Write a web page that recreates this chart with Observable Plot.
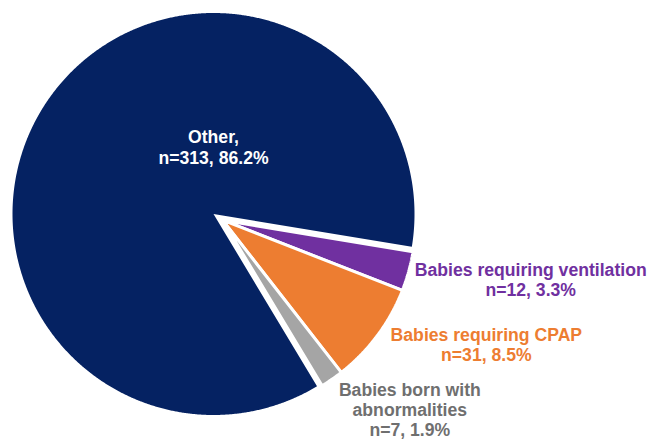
<!DOCTYPE html>
<html><head><meta charset="utf-8">
<script src="https://cdn.jsdelivr.net/npm/d3@7"></script>
<script src="https://cdn.jsdelivr.net/npm/@observablehq/plot@0.6"></script>
<style>html,body{margin:0;padding:0;background:#fff}</style>
</head><body><div id="chart"></div>
<script>
// ---- data ----
const categories = ["Other", "Babies requiring ventilation", "Babies requiring CPAP", "Babies born with abnormalities"];
const counts = [313, 12, 31, 7];
const percents = [86.2, 3.3, 8.5, 1.9];
const labelHeads = ["Other,", "Babies requiring ventilation", "Babies requiring CPAP", "Babies born with\nabnormalities"];

// ---- style / layout ----
const sliceColors = ["#052262", "#7030a0", "#ed7d31", "#a5a5a5"];
const textColors = ["#ffffff", "#7030a0", "#ed7d31", "#6f6f6f"];
const W = 649, H = 439, R = 201, CX = 213, CY = 213.5;
const startDeg = 149;
const explodePx = 11, smallR = 193 / R;
const labelNudge = [[0, -50.5], [122, 24.7], [109, 25.6], [78, 57]];
const fontSize = 18.6, lineGap = 20.3;
const fontFamily = "'Liberation Sans', Arial, 'DejaVu Sans', sans-serif";

// horizontal condensing factor so the long label spans ~232px like the reference
const target = 232, sample = "Babies requiring ventilation";
const ns = "http://www.w3.org/2000/svg";
const probe = document.createElementNS(ns, "svg");
probe.setAttribute("width", 10); probe.setAttribute("height", 10);
document.body.appendChild(probe);
const pt = document.createElementNS(ns, "text");
pt.setAttribute("style", `font-family:${fontFamily};font-weight:bold;font-size:${fontSize}px`);
pt.textContent = sample;
probe.appendChild(pt);
const sampleW = pt.getComputedTextLength() || target;
probe.remove();
const sx = Math.max(0.7, Math.min(1, target / sampleW));

const rows = categories.map((c, i) => ({category: c, n: counts[i], pct: percents[i]}));
const a0 = startDeg * Math.PI / 180;
const arcs = d3.pie().sort(null).value(d => d.n).startAngle(a0).endAngle(a0 + 2 * Math.PI)(rows);

// group explode for the small slices
const gMid = (arcs[1].startAngle + arcs[3].endAngle) / 2;
const off = explodePx / R;
const ox = off * Math.sin(gMid), oy = off * Math.cos(gMid);

function slicePoints(arc, i) {
  const small = i > 0;
  const cx = small ? ox : 0, cy = small ? oy : 0, r = small ? smallR : 1;
  const pts = [{x: cx, y: cy}];
  const steps = Math.max(8, Math.ceil((arc.endAngle - arc.startAngle) / 0.005));
  for (let k = 0; k <= steps; k++) {
    const a = arc.startAngle + (arc.endAngle - arc.startAngle) * k / steps;
    pts.push({x: cx + r * Math.sin(a), y: cy + r * Math.cos(a)});
  }
  pts.push({x: cx, y: cy});
  return pts;
}

const marks = [];
arcs.forEach((arc, i) => {
  marks.push(Plot.line(slicePoints(arc, i), {
    x: "x", y: "y", fill: sliceColors[i],
    stroke: i > 0 ? "white" : "none", strokeWidth: 3, strokeLinejoin: "miter", curve: "linear"
  }));
});

arcs.forEach((arc, i) => {
  const small = i > 0;
  const mid = (arc.startAngle + arc.endAngle) / 2;
  const anchor = small
    ? {x: ox + smallR * Math.sin(mid), y: oy + smallR * Math.cos(mid)}
    : {x: 0, y: 0};
  const d = rows[i];
  anchor.text = `${labelHeads[i]}\nn=${d.n}, ${d.pct}%`;
  marks.push(Plot.text([anchor], {
    x: "x", y: "y", text: "text",
    textAnchor: "middle", lineAnchor: "bottom",
    dx: labelNudge[i][0], dy: labelNudge[i][1],
    fill: textColors[i], fontSize, fontWeight: "bold", fontFamily,
    lineHeight: lineGap / fontSize
  }));
});

const chart = Plot.plot({
  width: W, height: H, margin: 0,
  style: {background: "#fff", overflow: "visible"},
  x: {domain: [-CX / R, (W - CX) / R], range: [0, W], axis: null},
  y: {domain: [-(H - CY) / R, CY / R], range: [H, 0], axis: null},
  marks
});
// condense label glyphs horizontally (reference uses a narrow typeface)
d3.select(chart).selectAll('g[aria-label="text"] text').each(function() {
  const tr = this.getAttribute("transform");
  if (tr) this.setAttribute("transform", `${tr} scale(${sx},1)`);
  else {
    const x = +this.getAttribute("x") || 0, y = +this.getAttribute("y") || 0;
    this.setAttribute("transform", `translate(${x},${y}) scale(${sx},1)`);
    this.removeAttribute("x"); this.removeAttribute("y");
  }
});
document.getElementById("chart").appendChild(chart);
</script>
</body></html>
